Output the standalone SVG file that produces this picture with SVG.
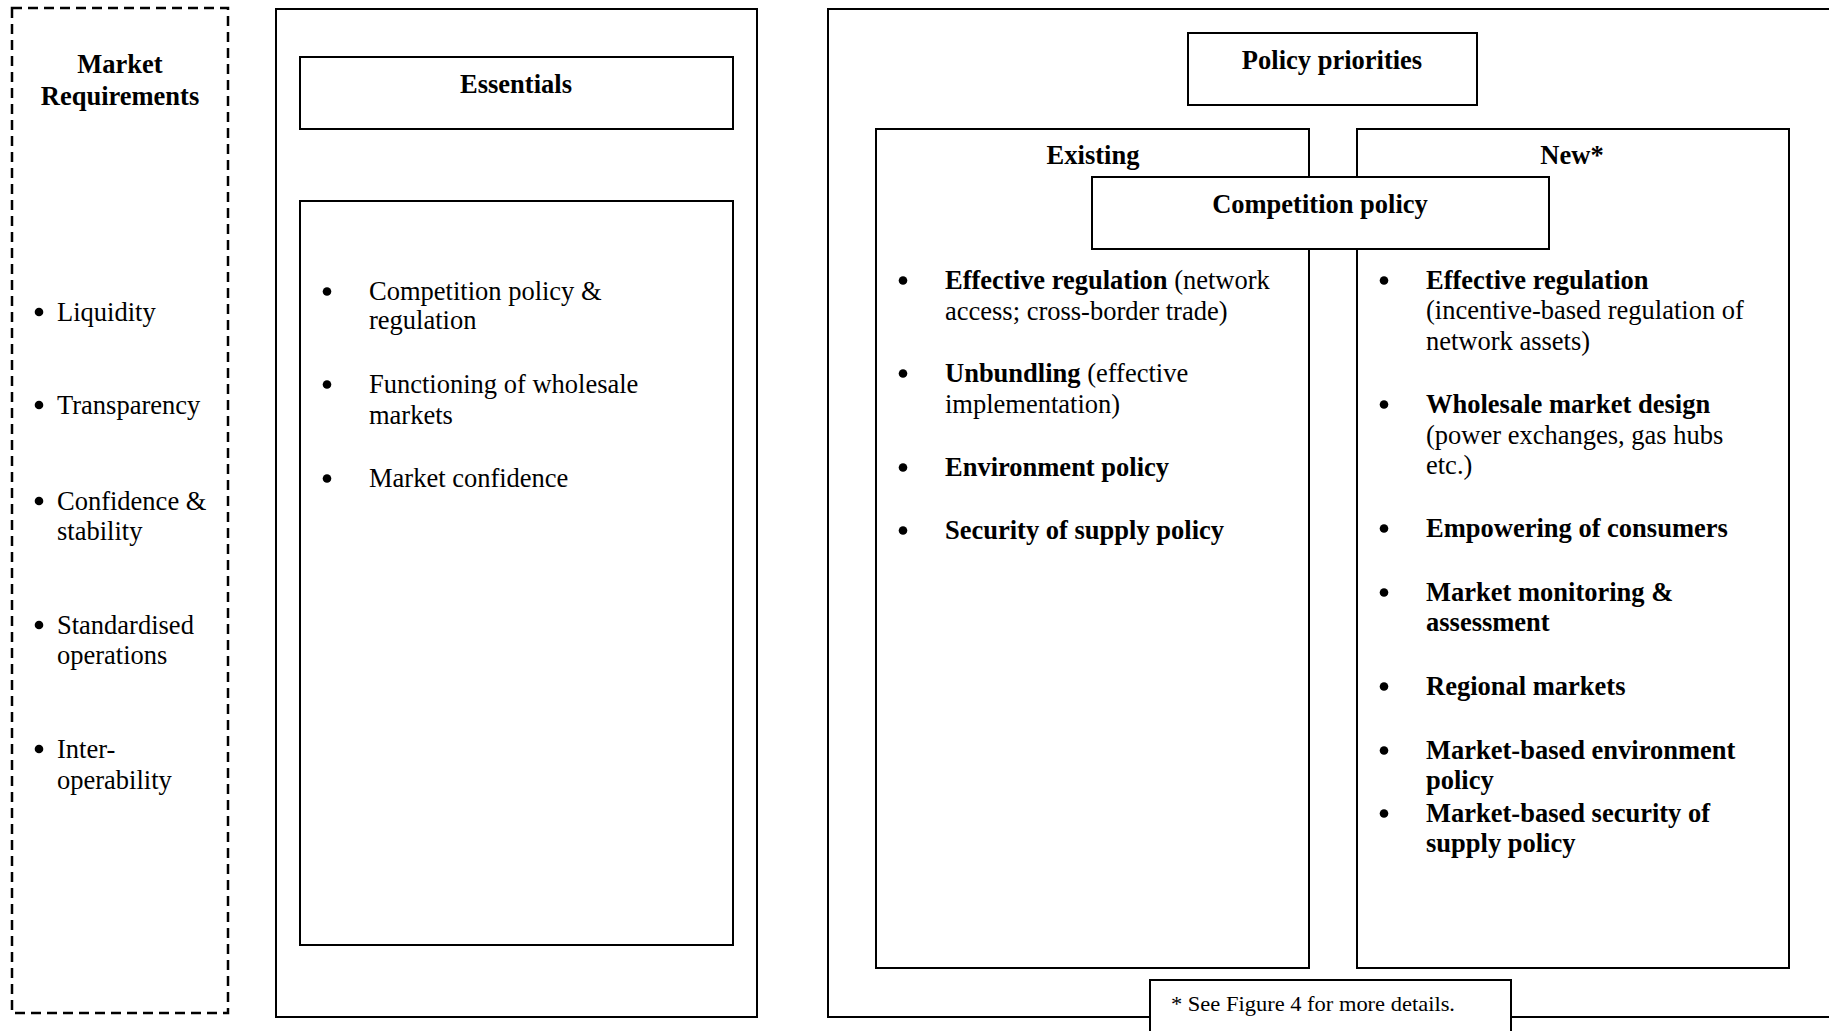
<svg xmlns="http://www.w3.org/2000/svg" width="1829" height="1031" viewBox="0 0 1829 1031">
<style>
  text { font-family: "Liberation Serif", "Times New Roman", serif; font-size: 26.5px; fill: #000; }
  .b { font-weight: bold; }
  .c { text-anchor: middle; }
  .box { fill: #fff; stroke: #000; stroke-width: 2; }
  .dash { fill: none; stroke: #000; stroke-width: 2.5; stroke-dasharray: 10 6; }
  .fn { font-size: 21px; }
  .dot { fill: #000; }
</style>
<defs>
  <circle id="bul" r="4.3" class="dot"/>
</defs>
<rect width="1829" height="1031" fill="#fff"/>

<g id="market-requirements">
  <rect class="dash" x="12" y="8" width="216" height="1005"/>
  <text class="b c" x="120" y="73">Market</text>
  <text class="b c" x="120" y="105">Requirements</text>
  <use href="#bul" x="39" y="312"/><text x="57" y="321">Liquidity</text>
  <use href="#bul" x="39" y="405"/><text x="57" y="414">Transparency</text>
  <use href="#bul" x="39" y="501"/><text x="57" y="510">Confidence &amp;</text>
  <text x="57" y="540">stability</text>
  <use href="#bul" x="39" y="625"/><text x="57" y="634">Standardised</text>
  <text x="57" y="664">operations</text>
  <use href="#bul" x="39" y="749"/><text x="57" y="758">Inter-</text>
  <text x="57" y="789">operability</text>
</g>

<g id="essentials-panel">
  <rect class="box" x="276" y="9" width="481" height="1008"/>
</g>
<g id="essentials">
  <rect class="box" x="300" y="57" width="433" height="72"/>
  <text class="b c" x="516" y="93">Essentials</text>
</g>
<g id="essentials-list">
  <rect class="box" x="300" y="201" width="433" height="744"/>
  <use href="#bul" x="327" y="291.5"/><text x="369" y="300">Competition policy &amp;</text>
  <text x="369" y="329">regulation</text>
  <use href="#bul" x="327" y="384.5"/><text x="369" y="393">Functioning of wholesale</text>
  <text x="369" y="424">markets</text>
  <use href="#bul" x="327" y="478.5"/><text x="369" y="487">Market confidence</text>
</g>

<g id="policy-panel">
  <rect class="box" x="828" y="9" width="1010" height="1008"/>
</g>
<g id="policy-priorities">
  <rect class="box" x="1188" y="33" width="289" height="72"/>
  <text class="b c" x="1332" y="69">Policy priorities</text>
</g>
<g id="existing">
  <rect class="box" x="876" y="129" width="433" height="839"/>
  <text class="b c" x="1093" y="164">Existing</text>
  <use href="#bul" x="903" y="280.5"/><text x="945" y="289"><tspan class="b">Effective regulation</tspan> (network</text>
  <text x="945" y="320">access; cross-border trade)</text>
  <use href="#bul" x="903" y="373.5"/><text x="945" y="382"><tspan class="b">Unbundling</tspan> (effective</text>
  <text x="945" y="413">implementation)</text>
  <use href="#bul" x="903" y="467.5"/><text class="b" x="945" y="476">Environment policy</text>
  <use href="#bul" x="903" y="530.5"/><text class="b" x="945" y="539">Security of supply policy</text>
</g>
<g id="new">
  <rect class="box" x="1357" y="129" width="432" height="839"/>
  <text class="b c" x="1572" y="164">New*</text>
  <use href="#bul" x="1384" y="280.5"/><text class="b" x="1426" y="289">Effective regulation</text>
  <text x="1426" y="319">(incentive-based regulation of</text>
  <text x="1426" y="350">network assets)</text>
  <use href="#bul" x="1384" y="404.5"/><text class="b" x="1426" y="413">Wholesale market design</text>
  <text x="1426" y="444">(power exchanges, gas hubs</text>
  <text x="1426" y="474">etc.)</text>
  <use href="#bul" x="1384" y="528.5"/><text class="b" x="1426" y="537">Empowering of consumers</text>
  <use href="#bul" x="1384" y="592.5"/><text class="b" x="1426" y="601">Market monitoring &amp;</text>
  <text class="b" x="1426" y="631">assessment</text>
  <use href="#bul" x="1384" y="686.5"/><text class="b" x="1426" y="695">Regional markets</text>
  <use href="#bul" x="1384" y="750.5"/><text class="b" x="1426" y="759">Market-based environment</text>
  <text class="b" x="1426" y="789">policy</text>
  <use href="#bul" x="1384" y="813.5"/><text class="b" x="1426" y="822">Market-based security of</text>
  <text class="b" x="1426" y="852">supply policy</text>
</g>
<g id="competition-policy">
  <rect class="box" x="1092" y="177" width="457" height="72"/>
  <text class="b c" x="1320" y="213">Competition policy</text>
</g>
<g id="footnote">
  <rect class="box" x="1150" y="980" width="361" height="60"/>
  <text class="fn" x="1171" y="1011" textLength="284" lengthAdjust="spacingAndGlyphs">* See Figure 4 for more details.</text>
</g>
<g id="connectors"></g>
</svg>
